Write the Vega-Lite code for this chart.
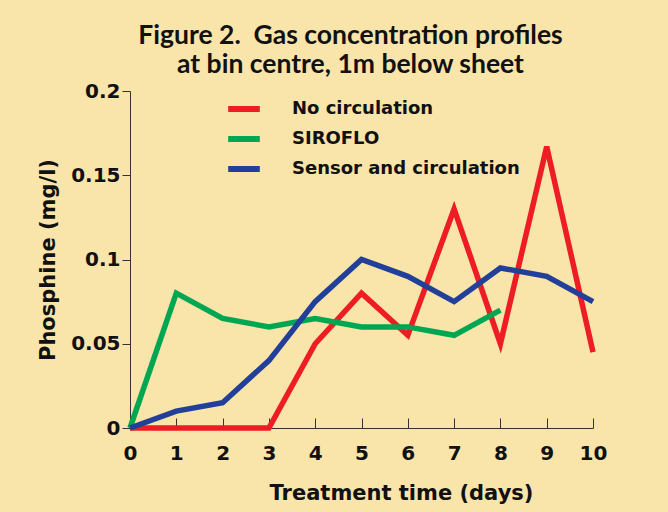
{
  "$schema": "https://vega.github.io/schema/vega-lite/v6.json",
  "width": 463,
  "height": 337,
  "autosize": {"type": "none"},
  "padding": {"left": 130, "top": 91, "right": 75, "bottom": 84},
  "background": "#F9E4AA",
  "title": {
    "text": ["Figure 2.\u00a0 Gas concentration profiles", "at bin centre, 1m below sheet"],
    "font": "Lato",
    "fontSize": 26.5,
    "fontWeight": "bold",
    "color": "#111111",
    "lineHeight": 29,
    "anchor": "middle",
    "dx": -11,
    "offset": 3
  },
  "config": {
    "view": {"stroke": null},
    "axis": {
      "labelFont": "DejaVu Sans",
      "labelFontWeight": "bold",
      "labelFontSize": 20,
      "labelColor": "#111111",
      "titleFont": "DejaVu Sans",
      "titleFontWeight": "bold",
      "titleFontSize": 21,
      "titleColor": "#111111",
      "domainColor": "#333333",
      "tickColor": "#333333",
      "grid": false
    },
    "legend": {
      "labelFont": "DejaVu Sans",
      "labelFontWeight": "bold",
      "labelFontSize": 18,
      "labelColor": "#111111",
      "labelLimit": 400
    }
  },
  "data": {
    "values": [
      {"day": 0, "v": 0, "series": "No circulation"},
      {"day": 1, "v": 0, "series": "No circulation"},
      {"day": 2, "v": 0, "series": "No circulation"},
      {"day": 3, "v": 0, "series": "No circulation"},
      {"day": 4, "v": 0.05, "series": "No circulation"},
      {"day": 5, "v": 0.08, "series": "No circulation"},
      {"day": 6, "v": 0.055, "series": "No circulation"},
      {"day": 7, "v": 0.13, "series": "No circulation"},
      {"day": 8, "v": 0.05, "series": "No circulation"},
      {"day": 9, "v": 0.167, "series": "No circulation"},
      {"day": 10, "v": 0.045, "series": "No circulation"},
      {"day": 0, "v": 0, "series": "SIROFLO"},
      {"day": 1, "v": 0.08, "series": "SIROFLO"},
      {"day": 2, "v": 0.065, "series": "SIROFLO"},
      {"day": 3, "v": 0.06, "series": "SIROFLO"},
      {"day": 4, "v": 0.065, "series": "SIROFLO"},
      {"day": 5, "v": 0.06, "series": "SIROFLO"},
      {"day": 6, "v": 0.06, "series": "SIROFLO"},
      {"day": 7, "v": 0.055, "series": "SIROFLO"},
      {"day": 8, "v": 0.07, "series": "SIROFLO"},
      {"day": 0, "v": 0, "series": "Sensor and circulation"},
      {"day": 1, "v": 0.01, "series": "Sensor and circulation"},
      {"day": 2, "v": 0.015, "series": "Sensor and circulation"},
      {"day": 3, "v": 0.04, "series": "Sensor and circulation"},
      {"day": 4, "v": 0.075, "series": "Sensor and circulation"},
      {"day": 5, "v": 0.1, "series": "Sensor and circulation"},
      {"day": 6, "v": 0.09, "series": "Sensor and circulation"},
      {"day": 7, "v": 0.075, "series": "Sensor and circulation"},
      {"day": 8, "v": 0.095, "series": "Sensor and circulation"},
      {"day": 9, "v": 0.09, "series": "Sensor and circulation"},
      {"day": 10, "v": 0.075, "series": "Sensor and circulation"}
    ]
  },
  "mark": {"type": "line", "strokeWidth": 5.5, "strokeJoin": "miter", "strokeCap": "butt"},
  "encoding": {
    "x": {
      "field": "day",
      "type": "quantitative",
      "scale": {"domain": [0, 10], "nice": false},
      "axis": {
        "title": "Treatment time (days)",
        "values": [0, 1, 2, 3, 4, 5, 6, 7, 8, 9, 10],
        "tickSize": -10,
        "labelPadding": 25,
        "titleX": 271,
        "titlePadding": 19,
        "labelFlush": false
      }
    },
    "y": {
      "field": "v",
      "type": "quantitative",
      "scale": {"domain": [0, 0.2], "nice": false},
      "axis": {
        "title": "Phosphine (mg/l)",
        "values": [0, 0.05, 0.1, 0.15, 0.2],
        "format": "~g",
        "tickSize": 8,
        "labelPadding": 2,
        "titlePadding": 12,
        "labelFlush": false
      }
    },
    "color": {
      "field": "series",
      "type": "nominal",
      "scale": {
        "domain": ["No circulation", "SIROFLO", "Sensor and circulation"],
        "range": ["#EE1C25", "#00A651", "#22409A"]
      },
      "legend": {
        "title": null,
        "orient": "none",
        "legendX": 95,
        "legendY": 5,
        "symbolType": "stroke",
        "symbolSize": 1000,
        "symbolStrokeWidth": 6,
        "labelOffset": 29,
        "clipHeight": 26,
        "rowPadding": 4
      }
    }
  }
}
